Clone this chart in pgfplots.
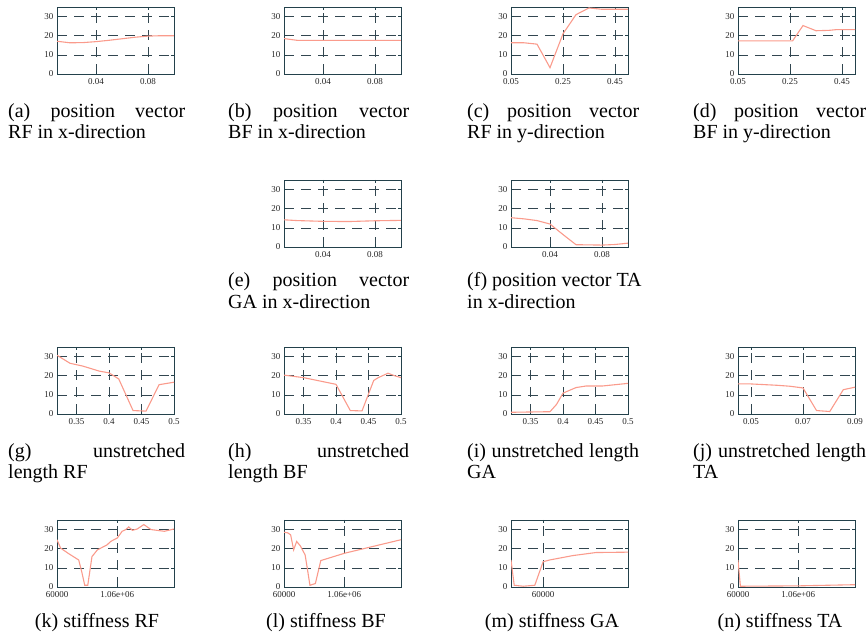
\documentclass[border=0pt]{standalone}
\usepackage{pgfplots}
\pgfplotsset{compat=1.18}
\usepackage{fontspec}
\setmainfont{Liberation Serif}
\definecolor{framec}{RGB}{35,65,75}
\definecolor{gridc}{RGB}{50,70,80}
\definecolor{linec}{RGB}{250,155,140}
\pgfplotsset{
  sub/.style={scale only axis, width=117pt, height=67pt, anchor=south west,
    ymin=0, ymax=35, ytick={0,10,20,30}, yticklabels={0,10,20,30},
    scaled x ticks=false, scaled y ticks=false,
    grid=major, major grid style={gridc, dash pattern=on 10pt off 7pt, line width=0.6pt},
    axis line style={framec, line width=0.7pt},
    tick align=inside, xtick pos=both, ytick pos=both, major tick length=3pt,
    tick style={framec, line width=0.6pt},
    tick label style={font=\fontsize{9}{10}\selectfont, text=black!85},
    xticklabel style={yshift=-1pt}},
  myline/.style={color=linec, line width=1.1pt, no markers},
  xa/.style={xmin=0.01, xmax=0.1, xtick={0.04,0.08}, xticklabels={0.04,0.08}},
  xc/.style={xmin=0.05, xmax=0.5, xtick={0.05,0.25,0.45}, xticklabels={0.05,0.25,0.45}},
  xg/.style={xmin=0.32, xmax=0.5, xtick={0.35,0.4,0.45,0.5}, xticklabels={0.35,0.4,0.45,0.5}},
  xj/.style={xmin=0.045, xmax=0.09, xtick={0.05,0.07,0.09}, xticklabels={0.05,0.07,0.09}},
  xk/.style={xmin=60000, xmax=2000000, xtick={60000,1060000}, xticklabels={60000,1.06e+06}},
  xm/.style={xmin=10000, xmax=192000, xtick={60000}, xticklabels={60000}},
}
\newcommand{\cf}{\fontsize{20}{23}\selectfont}
\begin{document}
\begin{tikzpicture}
\useasboundingbox (0,0) rectangle (868pt,637pt);
% ---------- row 1 ----------
\begin{axis}[sub, xa, at={(57pt,563pt)}]
\addplot[myline] coordinates {(0.01,17.1)(0.02,16.3)(0.03,16.4)(0.04,16.9)(0.05,17.6)(0.06,18.4)(0.07,19.2)(0.08,19.8)(0.09,20)(0.1,20)};
\end{axis}
\begin{axis}[sub, xa, at={(284pt,563pt)}]
\addplot[myline] coordinates {(0.01,18.5)(0.02,17.6)(0.05,17.6)(0.1,17.6)};
\end{axis}
\begin{axis}[sub, xc, at={(511pt,563pt)}]
\addplot[myline] coordinates {(0.05,16.3)(0.1,16.3)(0.15,15.6)(0.2,3.3)(0.25,21)(0.3,31)(0.35,34.5)(0.4,33.8)(0.5,33.8)};
\end{axis}
\begin{axis}[sub, xc, at={(738pt,563pt)}]
\addplot[myline] coordinates {(0.05,17.3)(0.26,17.3)(0.3,25.3)(0.35,22.6)(0.4,22.8)(0.43,23.2)(0.5,23.2)};
\end{axis}
% ---------- row 2 ----------
\begin{axis}[sub, xa, at={(284pt,390pt)}]
\addplot[myline] coordinates {(0.01,14.2)(0.02,13.8)(0.04,13.4)(0.06,13.3)(0.08,13.7)(0.1,13.9)};
\end{axis}
\begin{axis}[sub, xa, at={(511pt,390pt)}]
\addplot[myline] coordinates {(0.01,15.3)(0.02,14.7)(0.03,13.8)(0.04,12)(0.05,6.5)(0.06,1.2)(0.08,1.0)(0.09,1.3)(0.1,2)};
\end{axis}
% ---------- row 3 ----------
\begin{axis}[sub, xg, at={(57pt,223pt)}]
\addplot[myline] coordinates {(0.32,30.7)(0.34,26.5)(0.36,25)(0.385,22.4)(0.4,21.5)(0.415,18.3)(0.437,1.8)(0.457,1.5)(0.477,15.3)(0.5,16.6)};
\end{axis}
\begin{axis}[sub, xg, at={(284pt,223pt)}]
\addplot[myline] coordinates {(0.32,20.3)(0.35,19)(0.4,15.5)(0.422,1.8)(0.44,1.6)(0.458,17.5)(0.465,19)(0.48,21.3)(0.49,20)(0.5,19)};
\end{axis}
\begin{axis}[sub, xg, at={(511pt,223pt)}]
\addplot[myline] coordinates {(0.32,0.9)(0.38,1.2)(0.39,5)(0.4,10.9)(0.42,13.8)(0.435,14.6)(0.46,14.6)(0.5,16)};
\end{axis}
\begin{axis}[sub, xj, at={(738pt,223pt)}]
\addplot[myline] coordinates {(0.045,15.7)(0.05,15.7)(0.06,15)(0.065,14.5)(0.07,13.6)(0.0752,1.8)(0.0803,1.3)(0.0855,12.7)(0.09,14)};
\end{axis}
% ---------- row 4 ----------
\begin{axis}[sub, xk, at={(57pt,50pt)}]
\addplot[myline] coordinates {(60000,24.7)(120000,20.3)(250000,17.5)(420000,14.1)(470000,8)(520000,0.9)(570000,0.9)(640000,15.9)(730000,19.4)(890000,22)(950000,23.8)(1060000,25.6)(1140000,29.1)(1200000,30)(1250000,31.4)(1310000,29.6)(1390000,30.3)(1500000,32.6)(1620000,30)(1840000,29.1)(2000000,30.3)};
\end{axis}
\begin{axis}[sub, xk, at={(284pt,50pt)}]
\addplot[myline] coordinates {(60000,28.6)(120000,28.3)(170000,27.3)(220000,19.4)(270000,23.8)(330000,21.5)(410000,16.8)(450000,9)(490000,0.9)(580000,1.8)(670000,13.8)(1060000,17.6)(2000000,24.7)};
\end{axis}
\begin{axis}[sub, xm, at={(511pt,50pt)}]
\addplot[myline] coordinates {(10000,14.1)(15000,0.9)(29000,0.4)(47000,0.9)(60000,13.2)(70000,14.1)(106000,16.4)(142000,18)(192000,18.2)};
\end{axis}
\begin{axis}[sub, xk, at={(738pt,50pt)}]
\addplot[myline] coordinates {(60000,14)(100000,0.4)(1060000,0.6)(2000000,1.2)};
\end{axis}
% ---------- captions ----------
\begin{scope}[every node/.style={inner sep=0pt, anchor=base west, font=\cf}]
\node at (8pt,519pt) {\makebox[177pt][s]{(a) position vector}};
\node at (8pt,498pt) {RF in x-direction};
\node at (228pt,519pt) {\makebox[181pt][s]{(b) position vector}};
\node at (228pt,498pt) {BF in x-direction};
\node at (467pt,519pt) {\makebox[172pt][s]{(c) position vector}};
\node at (467pt,498pt) {RF in y-direction};
\node at (693pt,519pt) {\makebox[173pt][s]{(d) position vector}};
\node at (693pt,498pt) {BF in y-direction};
\node at (228pt,350pt) {\makebox[181pt][s]{(e) position vector}};
\node at (228pt,328pt) {GA in x-direction};
\node at (467pt,350pt) {(f) position vector TA};
\node at (467pt,328pt) {in x-direction};
\node at (8pt,179pt) {\makebox[177pt][s]{(g) unstretched}};
\node at (8pt,158pt) {length RF};
\node at (228pt,179pt) {\makebox[181pt][s]{(h) unstretched}};
\node at (228pt,158pt) {length BF};
\node at (467pt,179pt) {\makebox[172pt][s]{(i) unstretched length}};
\node at (467pt,158pt) {GA};
\node at (693pt,179pt) {\makebox[173pt][s]{(j) unstretched length}};
\node at (693pt,158pt) {TA};
\node[anchor=base] at (97pt,9pt) {(k) stiffness RF};
\node[anchor=base] at (326pt,9pt) {(l) stiffness BF};
\node[anchor=base] at (552pt,9pt) {(m) stiffness GA};
\node[anchor=base] at (780pt,9pt) {(n) stiffness TA};
\end{scope}
\end{tikzpicture}
\end{document}
